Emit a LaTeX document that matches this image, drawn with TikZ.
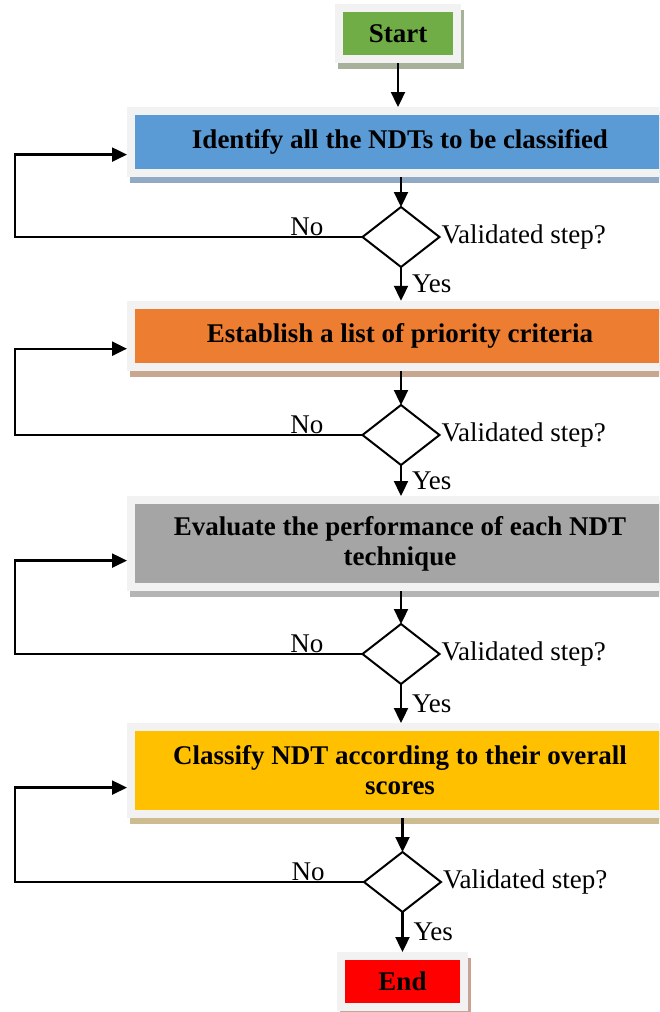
\documentclass[tikz,border=0pt]{standalone}
\usepackage{fontspec}
\setmainfont{Liberation Serif}
\usetikzlibrary{shapes.geometric,arrows.meta,shadows,calc}

\definecolor{rimgray}{HTML}{F2F2F2}
\definecolor{startgreen}{HTML}{70AD47}
\definecolor{startshade}{HTML}{A7B19A}
\definecolor{identblue}{HTML}{5B9BD5}
\definecolor{identshade}{HTML}{90AAC6}
\definecolor{critorange}{HTML}{ED7D31}
\definecolor{critshade}{HTML}{C9A690}
\definecolor{evalgray}{HTML}{A5A5A5}
\definecolor{evalshade}{HTML}{B4B4B4}
\definecolor{classgold}{HTML}{FFC000}
\definecolor{classshade}{HTML}{CDBC90}
\definecolor{endred}{HTML}{FF0000}
\definecolor{endshade}{HTML}{C9A294}

\tikzset{
  stepbox/.style={rectangle, draw=rimgray, line width=8pt, outer sep=4pt,
    font=\fontsize{27pt}{30pt}\selectfont\bfseries, align=center, inner sep=2pt},
  boxshade/.style={drop shadow={shadow xshift=3pt, shadow yshift=-6pt,
    opacity=1, fill=#1, draw=#1, line width=8pt}},
  check/.style={diamond, draw, line width=2pt, minimum width=77pt,
    minimum height=60pt, inner sep=0pt, outer sep=0pt},
  arr/.style={line width=2.3pt, -{Triangle[length=15pt,width=14pt]}},
  ask/.style={anchor=west, inner sep=2pt},
  yes/.style={anchor=west, inner sep=2pt, xshift=8pt},
  no/.style={anchor=south, inner sep=0pt}
}

\begin{document}
\begin{tikzpicture}[x=1pt, y=1pt, font=\fontsize{27pt}{30pt}\selectfont]
\useasboundingbox (0,0) rectangle (659,-1012);
\clip (0,0) rectangle (659,-1012);

% boxes
\node[stepbox, boxshade=startshade, fill=startgreen, minimum width=118pt, minimum height=51pt] (start) at (398,-33.5) {Start};
\node[stepbox, boxshade=identshade, fill=identblue, minimum width=538pt, minimum height=62pt] (ident) at (400,-142) {Identify all the NDTs to be classified};
\node[stepbox, boxshade=critshade, fill=critorange, minimum width=538pt, minimum height=62.5pt] (crit) at (400,-336) {Establish a list of priority criteria};
\node[stepbox, boxshade=evalshade, fill=evalgray, minimum width=538pt, minimum height=87pt] (eval) at (400,-543.5) {Evaluate the performance of each NDT\\technique};
\node[stepbox, boxshade=classshade, fill=classgold, minimum width=538pt, minimum height=87pt] (class) at (400,-770.5) {Classify NDT according to their overall\\scores};
\node[stepbox, boxshade=endshade, fill=endred, minimum width=123pt, minimum height=51pt] (end) at (402.5,-981.5) {End};

% checks
\node[check] (chk1) at (401,-237) {};
\node[check] (chk2) at (401,-435) {};
\node[check] (chk3) at (401,-654) {};
\node[check] (chk4) at (402.5,-882) {};
\node[ask] at (chk1.east) {Validated step?};
\node[ask] at (chk2.east) {Validated step?};
\node[ask] at (chk3.east) {Validated step?};
\node[ask] at (chk4.east) {Validated step?};

\coordinate (rail) at (15,0);

% main flow
\draw[arr] (start.south) -- (start.south |- ident.north);
\draw[arr] (chk1.north |- ident.south) -- (chk1.north);
\draw[arr] (chk1.south) -- node[yes] {Yes} (chk1.south |- crit.north);
\draw[arr] (chk2.north |- crit.south) -- (chk2.north);
\draw[arr] (chk2.south) -- node[yes] {Yes} (chk2.south |- eval.north);
\draw[arr] (chk3.north |- eval.south) -- (chk3.north);
\draw[arr] (chk3.south) -- node[yes] {Yes} (chk3.south |- class.north);
\draw[arr] (chk4.north |- class.south) -- (chk4.north);
\draw[arr] (chk4.south) -- node[yes] {Yes} (chk4.south |- end.north);

% loops back
\draw[arr] (chk1.west) -- node[no, pos=0.16] {No} (chk1.west -| rail) |- ($(ident.north west)!0.68!(ident.south west)$);
\draw[arr] (chk2.west) -- node[no, pos=0.16] {No} (chk2.west -| rail) |- ($(crit.north west)!0.68!(crit.south west)$);
\draw[arr] (chk3.west) -- node[no, pos=0.16] {No} (chk3.west -| rail) |- ($(eval.north west)!0.68!(eval.south west)$);
\draw[arr] (chk4.west) -- node[no, pos=0.16] {No} (chk4.west -| rail) |- ($(class.north west)!0.68!(class.south west)$);
\end{tikzpicture}
\end{document}
